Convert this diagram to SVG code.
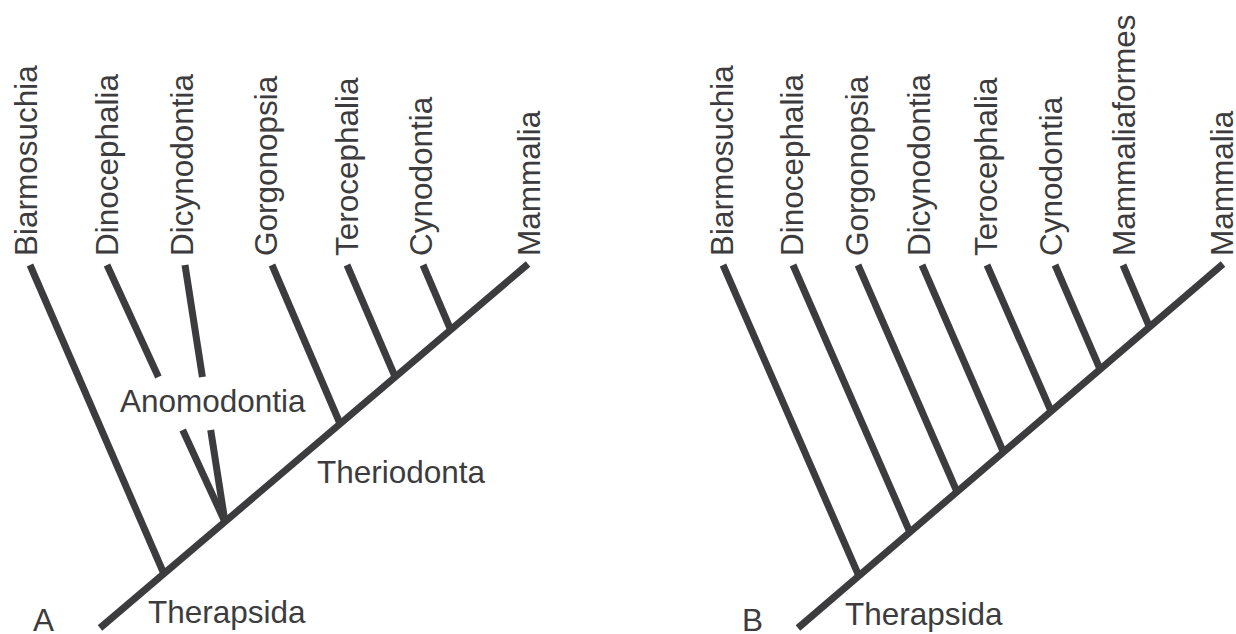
<svg xmlns="http://www.w3.org/2000/svg" width="1236" height="634" viewBox="0 0 1236 634">
<style>
.t{font-family:"Liberation Sans",Arial,sans-serif;font-size:31.5px;fill:#3c3c3e}
.l{stroke:#3c3c3e;stroke-width:7;fill:none;stroke-linecap:butt}
</style>
<rect width="1236" height="634" fill="#fff"/>
<g id="connectors">
<g id="panelA-lines">
<line class="l" x1="100" y1="628" x2="528" y2="264"/>
<line class="l" x1="30" y1="265" x2="164" y2="574"/>
<line class="l" x1="107" y1="265" x2="158.4" y2="377"/>
<line class="l" x1="182.7" y1="430" x2="225" y2="522"/>
<line class="l" x1="185" y1="265" x2="202.4" y2="377"/>
<line class="l" x1="210.7" y1="430" x2="225" y2="522"/>
<line class="l" x1="272" y1="265" x2="340.2" y2="424"/>
<line class="l" x1="347" y1="265" x2="395.2" y2="377"/>
<line class="l" x1="423" y1="265" x2="450.8" y2="330"/>
</g>
<g id="panelB-lines">
<line class="l" x1="798" y1="628" x2="1223" y2="264"/>
<line class="l" x1="723" y1="265" x2="858.9" y2="576"/>
<line class="l" x1="793" y1="265" x2="909.8" y2="532"/>
<line class="l" x1="858" y1="265" x2="957.1" y2="492"/>
<line class="l" x1="922" y1="265" x2="1003.4" y2="452"/>
<line class="l" x1="987" y1="265" x2="1051" y2="411"/>
<line class="l" x1="1055" y1="265" x2="1100" y2="369"/>
<line class="l" x1="1123" y1="265" x2="1149.5" y2="327"/>
</g>
</g>
<g id="panelA">
<g id="A-label"><text class="t" x="33" y="631">A</text></g>
<g id="A-biarmosuchia"><text class="t" transform="translate(37,256) rotate(-90)">Biarmosuchia</text></g>
<g id="A-dinocephalia"><text class="t" transform="translate(118,256) rotate(-90)">Dinocephalia</text></g>
<g id="A-dicynodontia"><text class="t" transform="translate(193,256) rotate(-90)">Dicynodontia</text></g>
<g id="A-gorgonopsia"><text class="t" transform="translate(277,256) rotate(-90)">Gorgonopsia</text></g>
<g id="A-terocephalia"><text class="t" transform="translate(358,256) rotate(-90)">Terocephalia</text></g>
<g id="A-cynodontia"><text class="t" transform="translate(432,256) rotate(-90)">Cynodontia</text></g>
<g id="A-mammalia"><text class="t" transform="translate(540,256) rotate(-90)">Mammalia</text></g>
<g id="A-anomodontia"><text class="t" x="120" y="412">Anomodontia</text></g>
<g id="A-theriodonta"><text class="t" x="317" y="483">Theriodonta</text></g>
<g id="A-therapsida"><text class="t" x="148" y="623">Therapsida</text></g>
</g>
<g id="panelB">
<g id="B-label"><text class="t" x="742" y="631">B</text></g>
<g id="B-biarmosuchia"><text class="t" transform="translate(733,256) rotate(-90)">Biarmosuchia</text></g>
<g id="B-dinocephalia"><text class="t" transform="translate(803,256) rotate(-90)">Dinocephalia</text></g>
<g id="B-gorgonopsia"><text class="t" transform="translate(868,256) rotate(-90)">Gorgonopsia</text></g>
<g id="B-dicynodontia"><text class="t" transform="translate(930,256) rotate(-90)">Dicynodontia</text></g>
<g id="B-terocephalia"><text class="t" transform="translate(997,256) rotate(-90)">Terocephalia</text></g>
<g id="B-cynodontia"><text class="t" transform="translate(1062,256) rotate(-90)">Cynodontia</text></g>
<g id="B-mammaliaformes"><text class="t" transform="translate(1135,256) rotate(-90)">Mammaliaformes</text></g>
<g id="B-mammalia"><text class="t" transform="translate(1233,256) rotate(-90)">Mammalia</text></g>
<g id="B-therapsida"><text class="t" x="845" y="625">Therapsida</text></g>
</g>
</svg>
